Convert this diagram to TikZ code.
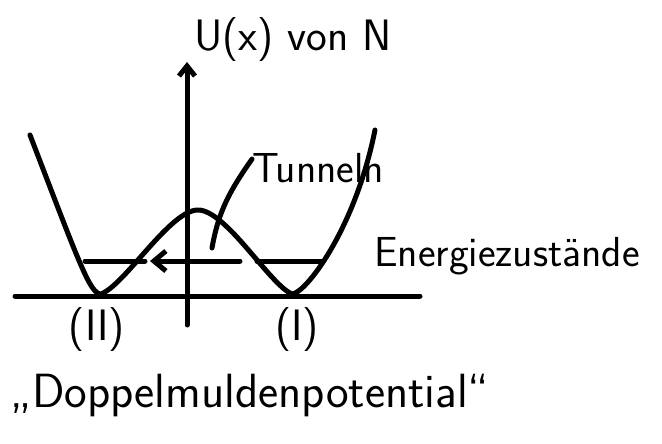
\documentclass[tikz,border=0pt]{standalone}
\usepackage{fontspec}
\usetikzlibrary{arrows.meta}

\begin{document}
\begin{tikzpicture}[x=1pt, y=-1pt,
		pen/.style={line width=5pt, line cap=round, line join=round},
		axisarrow/.style={pen, -{Straight Barb[length=10pt, width=16pt]}},
		arrow/.style={pen, -{Straight Barb[length=12pt, width=20pt]}},
		lbl/.style={font=\sffamily\fontsize{44}{48}\selectfont, inner sep=0pt}
		]
		\useasboundingbox (0,0) rectangle (662,444);
		
		% axes
		\coordinate (xl) at (15,296);
		\coordinate (xr) at (420,296);
		\coordinate (yb) at (187,325);
		\coordinate (yt) at (187,62);
		\draw[pen] (xl) -- (xr);
		\draw[axisarrow] (yb) -- (yt);
		\node[lbl, anchor=west] (ulab) at (194,40) {U(x) von N};
		
		% double well
		\draw[pen] (30,135) .. controls (80,265) and (90,294) .. (101,294)
		.. controls (125,285) and (170,210) .. (198,210)
		.. controls (226,210) and (270,285) .. (292,294)
		.. controls (305,294) and (355,230) .. (375,130);
		
		% energy level
		\coordinate (lvl1) at (85,261);
		\coordinate (lvl2) at (145,261);
		\coordinate (lvl3) at (257,261);
		\coordinate (lvl4) at (322,261);
		\coordinate (tunA) at (240,261);
		\coordinate (tunB) at (150,261);
		\draw[pen] (lvl1) -- (lvl2);
		\draw[pen] (lvl3) -- (lvl4);
		\draw[arrow] (tunA) -- (tunB);
		
		% labels
		\node[lbl, font=\sffamily\fontsize{42}{46}\selectfont, anchor=west] (tun) at (252,168) {Tunneln};
		\coordinate (tunend) at (212,248);
		\draw[pen] ([yshift=-6pt]tun.north west) to[out=235, in=80] (tunend);
		
		\node[lbl, font=\sffamily\fontsize{42}{46}\selectfont, anchor=west] (ez) at (374,256) {Energiezustände};
		\node[lbl] (w2) at (97,330) {(II)};
		\node[lbl] (w1) at (297,330) {(I)};
		\node[lbl, font=\sffamily\fontsize{48}{52}\selectfont] (name) at (250,396) {„Doppelmuldenpotential“};
		
	\end{tikzpicture}
\end{document}
